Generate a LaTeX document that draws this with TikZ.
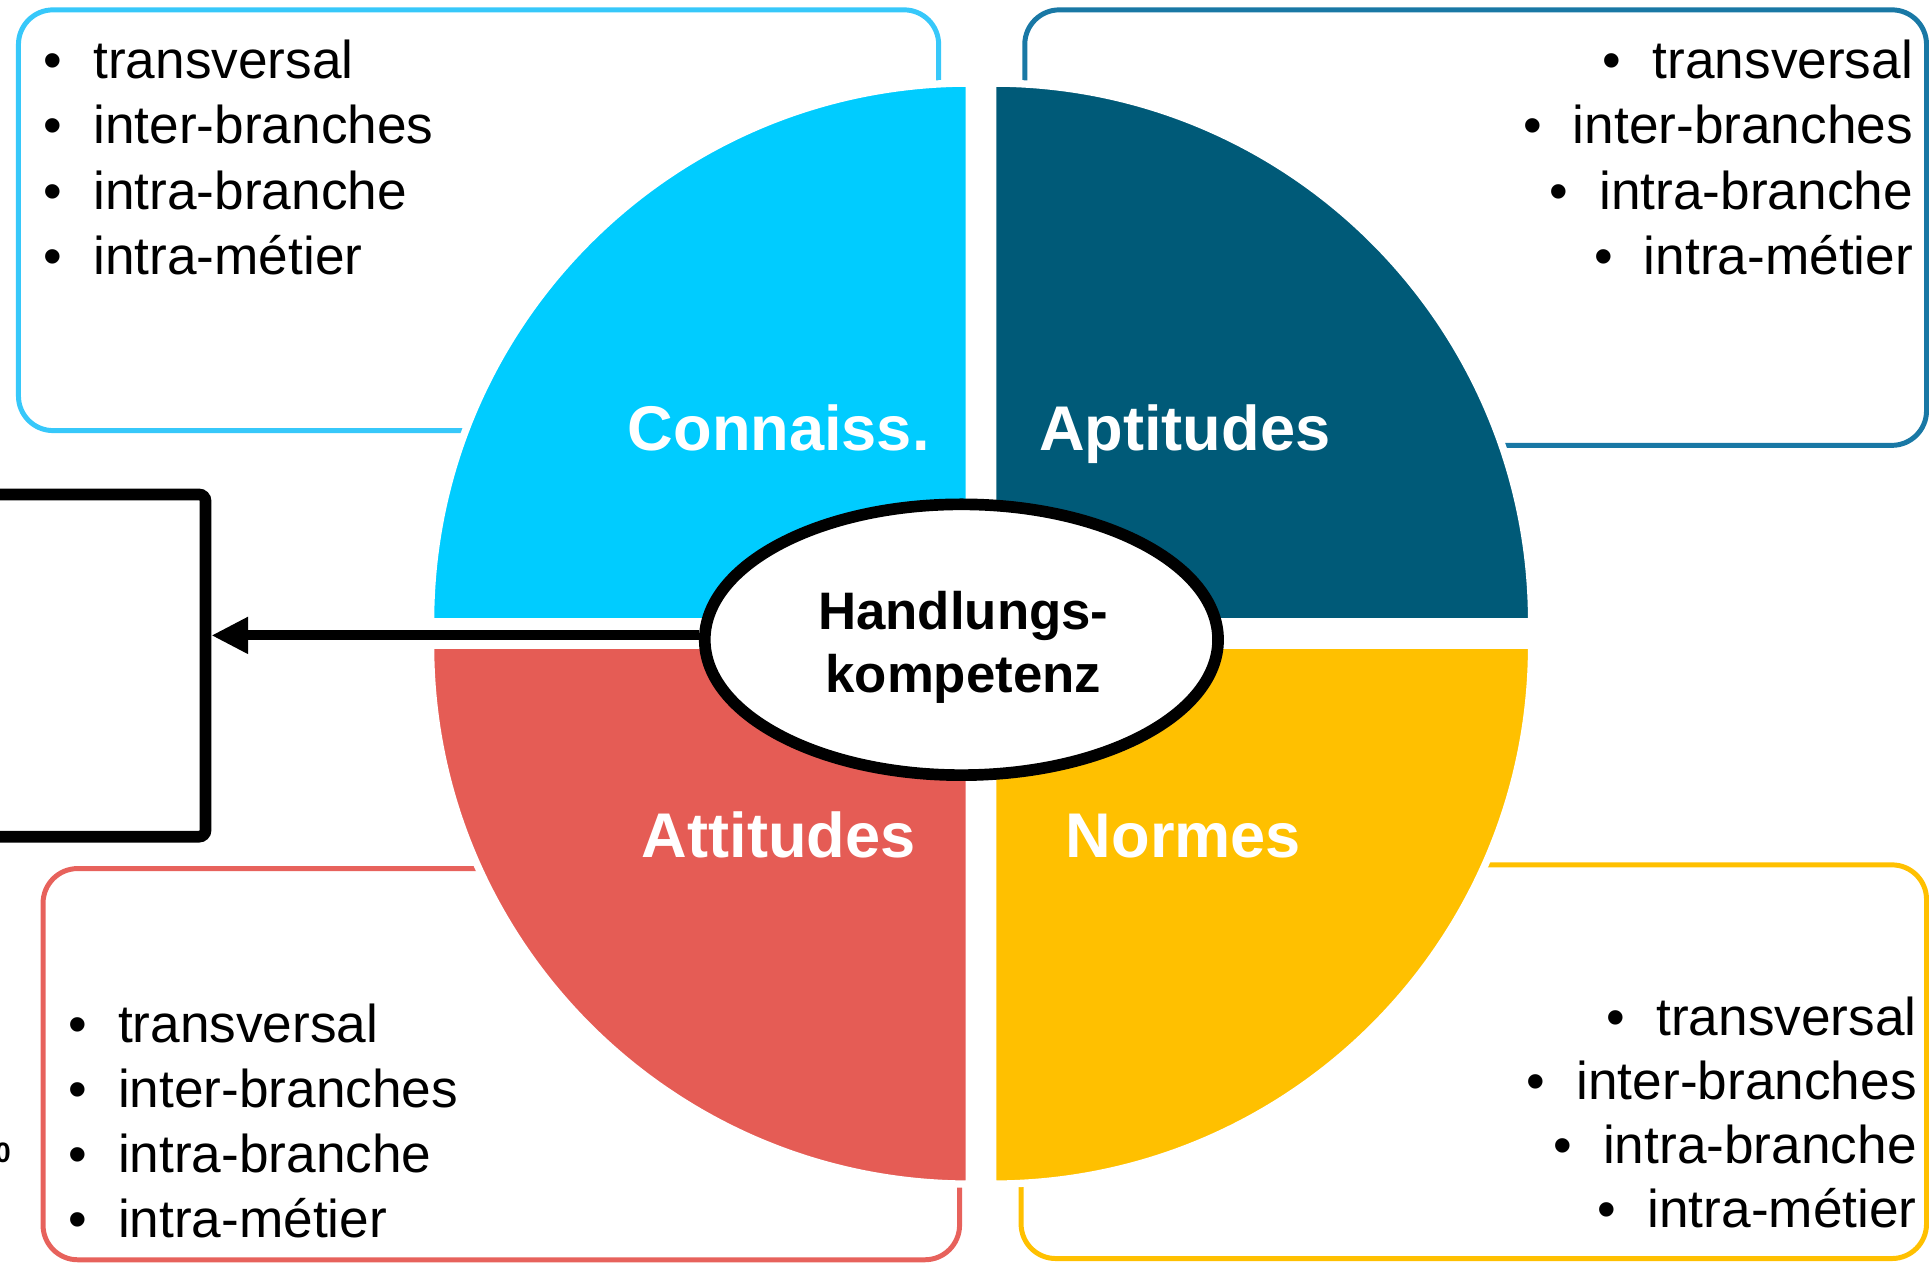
\documentclass[tikz,border=0pt]{standalone}
\usepackage{fontspec}
\setmainfont{Liberation Sans}
\usetikzlibrary{positioning,shapes.geometric,arrows.meta}

\definecolor{qcyan}{RGB}{0,204,255}
\definecolor{lcyan}{RGB}{55,200,250}
\definecolor{qblue}{RGB}{0,90,120}
\definecolor{lblue}{RGB}{25,120,165}
\definecolor{qred}{RGB}{229,92,85}
\definecolor{lred}{RGB}{231,98,92}
\definecolor{qyellow}{RGB}{255,192,0}

\tikzset{
  >={Triangle[length=8.5pt,width=8pt]},
  listbox/.style={draw=#1,line width=1.15pt,rounded corners=8pt},
  item/.style={inner sep=0pt,outer sep=0pt,font=\fontsize{12.3}{15}\selectfont},
  quadlabel/.style={inner sep=0pt,text=white,font=\bfseries\fontsize{14.6}{17}\selectfont}
}

\begin{document}
\begin{tikzpicture}[x=0.01cm,y=-0.01cm]

  % Define some variables
  \def\R{438}      % quadrant radius
  \def\cx{797.5}   % centre of the circle
  \def\cy{515}
  \def\gap{9.5}    % half gap between quadrants

  \useasboundingbox (0,0) rectangle (1568,1026);

  % boxes behind the circle
  \draw[listbox=lcyan] (15,8) rectangle (763,350);
  \draw[listbox=lblue] (833,8) rectangle (1566,362);
  \draw[listbox=lred] (35,706) rectangle (780,1024);
  \draw[listbox=qyellow] (830,703) rectangle (1566,1023);

  % quadrants
  \foreach \a/\col/\sx/\sy in {180/qcyan/-1/-1, 270/qblue/1/-1, 90/qred/-1/1, 0/qyellow/1/1}
    \filldraw[fill=\col,draw=white,line width=1.7pt]
      (\cx+\sx*\gap,\cy+\sy*\gap) -- ++(\a:\R) arc[start angle=\a,delta angle=90,radius=\R] -- cycle;

  \node[quadlabel,anchor=base] (lcon) at (633,366) {Connaiss.};
  \node[quadlabel,anchor=base] (lapt) at (963,366) {Aptitudes};
  \node[quadlabel,anchor=base] (latt) at (633,697) {Attitudes};
  \node[quadlabel,anchor=base] (lnor) at (962,697) {Normes};

  % centre and target
  \node[ellipse,draw,fill=white,line width=2.7pt,minimum width=4.17cm,minimum height=2.2cm,
    inner sep=0pt] (hk) at (781.5,520) {};
  \node[inner sep=0pt,align=center,font=\bfseries\fontsize{12.2}{14.6}\selectfont] (hklab) at (783,526) {Handlungs-\\kompetenz};
  \node[draw,line width=2.7pt,rounded corners=1.5pt,minimum width=2.3cm,minimum height=2.78cm] (ziel) at (52,541) {};
  \draw[->,line width=2.3pt] ([yshift=1pt]hk.west) -- ([yshift=1pt]ziel.east |- hk.west);

  % lists
  \foreach \t [count=\i from 0] in {transversal,inter-branches,intra-branche,intra-métier}{
    \node[item,anchor=base west] (kon\i) at (35.5,64+53*\i) {\textbullet\hspace{7.2pt}\t};
    \node[item,anchor=base east] (apt\i) at (1555,64+53*\i) {\textbullet\hspace{7.2pt}\t};
    \node[item,anchor=base west] (att\i) at (55.5,847+53*\i) {\textbullet\hspace{7.2pt}\t};
    \node[item,anchor=base east] (nor\i) at (1558,842+52*\i) {\textbullet\hspace{7.2pt}\t};
  }

  \node[anchor=base east,inner sep=0pt,font=\bfseries\fontsize{6.5}{8}\selectfont] (rest) at (9.5,945) {0};

\end{tikzpicture}
\end{document}
